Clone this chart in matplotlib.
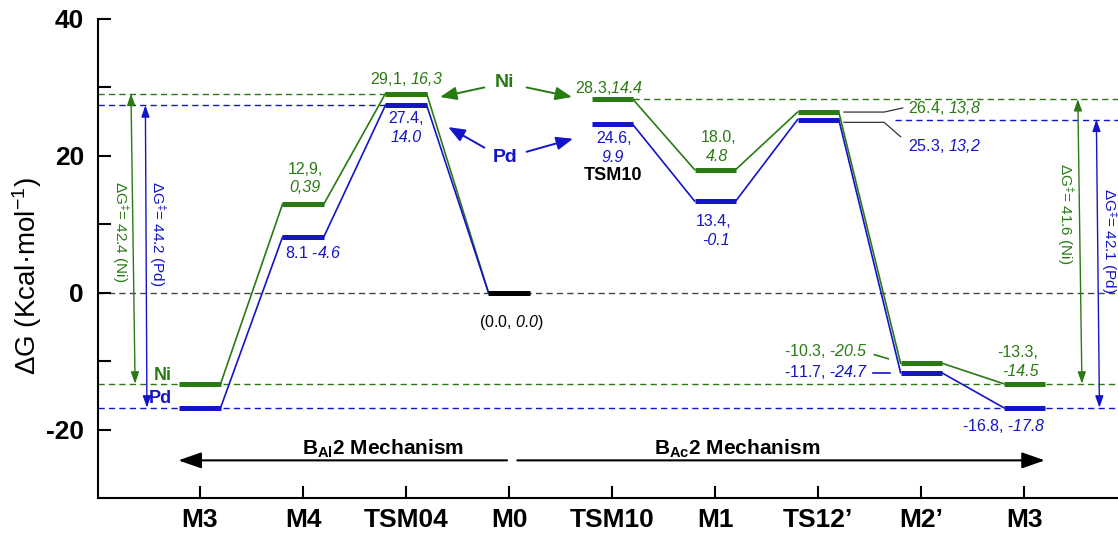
import matplotlib
matplotlib.use('Agg')
import matplotlib.pyplot as plt

plt.rcParams['font.family'] = 'Liberation Sans'
# math mode is only used for italic numbers, sub/superscripts
plt.rcParams['mathtext.fontset'] = 'custom'
plt.rcParams['mathtext.rm'] = 'Liberation Sans:italic'
plt.rcParams['mathtext.it'] = 'Liberation Sans:italic'
plt.rcParams['mathtext.sf'] = 'Liberation Sans'
plt.rcParams['mathtext.bf'] = 'Liberation Sans:bold'

# free energy profile, Ni and Pd
states = ['M3', 'M4', 'TSM04', 'M0', 'TSM10', 'M1', 'TS12\u2019', 'M2\u2019', 'M3']
ni_dG = [-13.3, 12.9, 29.1, 0.0, 28.3, 18.0, 26.4, -10.3, -13.3]
pd_dG = [-16.8, 8.1, 27.4, 0.0, 24.6, 13.4, 25.3, -11.7, -16.8]
# printed values (first number as written, second in italics)
ni_first = ['-13.3', '12,9', '29,1', '0.0', '28.3', '18.0', '26.4', '-10.3', '-13.3']
ni_second = ['-14.5', '0,39', '16,3', '0.0', '14.4', '4.8', '13,8', '-20.5', '-14.5']
pd_first = ['-16.8', '8.1', '27.4', '0.0', '24.6', '13.4', '25.3', '-11.7', '-16.8']
pd_second = ['-17.8', '-4.6', '14.0', '0.0', '9.9', '-0.1', '13,2', '-24.7', '-17.8']
# activation barriers: B_Al2 (left) and B_Ac2 (right)
ni_barrier = [42.4, 41.6]
pd_barrier = [44.2, 42.1]

GREEN = '#2a7a14'
BLUE = '#1414c8'
hw = 0.2  # half width of a level bar
FS = 11.5  # value labels

fig = plt.figure(figsize=(11.18, 5.36), dpi=100)
ax = fig.add_axes([98 / 1118, 38 / 536, 1020 / 1118, 479 / 536])
ax.set_xlim(-0.99, 8.91)
ax.set_ylim(-30, 40)


def it(s):
    # italic number, keeping the leading hyphen upright
    sign = '-' if s.startswith('-') else ''
    return sign + r'$\mathrm{' + s.lstrip('-').replace(',', '{,}') + '}$'


def dashed(x0, x1, y, color):
    ax.plot([x0, x1], [y, y], color=color, lw=1, dashes=(4.5, 3), zorder=1)


def profile(values, color):
    for i, v in enumerate(values):
        if i == 3:
            continue
        ax.plot([i - hw, i + hw], [v, v], color=color, lw=3.6,
                solid_capstyle='butt', zorder=4)
        if i < len(values) - 1:
            ax.plot([i + hw, i + 1 - hw], [v, values[i + 1]], color=color,
                    lw=1.2, zorder=3)


x0, x1 = ax.get_xlim()
dashed(x0, x1, 0, '#444444')
dashed(x0, x1, ni_dG[0], GREEN)
dashed(x0, x1, pd_dG[0], BLUE)
dashed(x0, 2 - hw, ni_dG[2], GREEN)
dashed(x0, 2 - hw, pd_dG[2], BLUE)
dashed(4 + hw, x1, ni_dG[4], GREEN)
dashed(6.75, x1, pd_dG[6], BLUE)

profile(ni_dG, GREEN)
profile(pd_dG, BLUE)
ax.plot([3 - hw, 3 + hw], [0, 0], color='black', lw=3.6,
        solid_capstyle='butt', zorder=5)


def label(i, v, text, color, dx, dy, ha='center', **kw):
    ax.annotate(text, (i, v), xytext=(dx, dy), textcoords='offset pixels',
                ha=ha, va='center', color=color, fontsize=FS, **kw)


# M4
label(1, ni_dG[1], ni_first[1] + ',', GREEN, 2, 35)
label(1, ni_dG[1], ni_second[1], GREEN, 2, 17, style='italic')
label(1, pd_dG[1], pd_first[1] + ' ' + it(pd_second[1]), BLUE, 10, -16)
# TSM04
label(2, ni_dG[2], ni_first[2] + ', ' + it(ni_second[2]), GREEN, 0, 15)
label(2, pd_dG[2], pd_first[2] + ',', BLUE, 0, -13)
label(2, pd_dG[2], pd_second[2], BLUE, 0, -32, style='italic')
# M0
label(3, 0, '(' + ni_first[3] + ', ' + it(ni_second[3]) + ')', 'black', 2, -30)
# TSM10
label(4, ni_dG[4], ni_first[4] + ',' + it(ni_second[4]), GREEN, -3, 11)
label(4, pd_dG[4], pd_first[4] + ',', BLUE, 2, -14)
label(4, pd_dG[4], pd_second[4], BLUE, 0, -33, style='italic')
ax.annotate('TSM10', (4, pd_dG[4]), xytext=(1, -51), textcoords='offset pixels',
            ha='center', va='center', fontsize=13, fontweight='bold')
# M1
label(5, ni_dG[5], ni_first[5] + ',', GREEN, 3, 32)
label(5, ni_dG[5], ni_second[5], GREEN, 2, 13, style='italic')
label(5, pd_dG[5], pd_first[5] + ',', BLUE, -2, -20)
label(5, pd_dG[5], pd_second[5], BLUE, 1, -39, style='italic')
# TS12'
ax.plot([6.25, 6.64, 6.82], [ni_dG[6], ni_dG[6], ni_dG[6] + 0.6],
        color='#333333', lw=0.9)
ax.plot([6.25, 6.64, 6.80], [pd_dG[6] - 0.4, pd_dG[6] - 0.4, pd_dG[6] - 2.5],
        color='#333333', lw=0.9)
label(6, ni_dG[6], ni_first[6] + ', ' + it(ni_second[6]), GREEN, 90, 4, ha='left')
label(6, pd_dG[6], pd_first[6] + ', ' + it(pd_second[6]), BLUE, 90, -26, ha='left')
# M2'
ax.plot([6.545, 6.68], [ni_dG[7] + 1.25, ni_dG[7] + 0.65], color=GREEN, lw=1.2)
ax.plot([6.53, 6.70], [pd_dG[7], pd_dG[7]], color=BLUE, lw=1.2)
label(7, ni_dG[7], ni_first[7] + ', ' + it(ni_second[7]), GREEN, -53, 12, ha='right')
label(7, pd_dG[7], pd_first[7] + ', ' + it(pd_second[7]), BLUE, -53, 1, ha='right')
# M3 (end)
label(8, ni_dG[8], ni_first[8] + ',', GREEN, -7, 31)
label(8, ni_dG[8], ni_second[8], GREEN, -4, 12, style='italic')
label(8, pd_dG[8], pd_first[8] + ', ' + it(pd_second[8]), BLUE, 21, -18, ha='right')

# metal tags at the starting M3
ax.annotate('Ni', (-hw, ni_dG[0]), xytext=(-8, 8), textcoords='offset pixels',
            ha='right', va='center', color=GREEN, fontsize=13, fontweight='bold')
ax.annotate('Pd', (-hw, pd_dG[0]), xytext=(-8, 9), textcoords='offset pixels',
            ha='right', va='center', color=BLUE, fontsize=13, fontweight='bold')

# Ni / Pd pointers between the two transition states
ax.text(2.96, 30.7, 'Ni', color=GREEN, fontsize=14, fontweight='bold',
        ha='center', va='center')
ax.text(2.96, 19.7, 'Pd', color=BLUE, fontsize=14, fontweight='bold',
        ha='center', va='center')
ptr = dict(arrowstyle='-|>,head_length=1.0,head_width=0.4', mutation_scale=10,
           lw=1.4, shrinkA=0, shrinkB=0)
for (xa, ya), (xb, yb), c in [((2.76, 30.0), (2.33, 28.6), GREEN),
                              ((3.17, 30.0), (3.61, 28.6), GREEN),
                              ((2.76, 21.2), (2.41, 24.2), BLUE),
                              ((3.17, 20.6), (3.62, 22.5), BLUE)]:
    ax.annotate('', (xb, yb), xytext=(xa, ya), arrowprops=dict(ptr, color=c))

# barrier arrows
dbl = dict(arrowstyle='<|-|>,head_length=1.0,head_width=0.35', mutation_scale=7,
           lw=1.0, shrinkA=0, shrinkB=0)
ax.annotate('', (-0.63, ni_dG[0]), xytext=(-0.67, ni_dG[2]),
            arrowprops=dict(dbl, color=GREEN))
ax.annotate('', (-0.515, pd_dG[0]), xytext=(-0.53, pd_dG[2]),
            arrowprops=dict(dbl, color=BLUE))
ax.annotate('', (8.56, ni_dG[8]), xytext=(8.52, ni_dG[4]),
            arrowprops=dict(dbl, color=GREEN))
ax.annotate('', (8.73, pd_dG[8]), xytext=(8.70, pd_dG[6]),
            arrowprops=dict(dbl, color=BLUE))
for x, y, val, m, c in [(-0.77, 8.9, ni_barrier[0], 'Ni', GREEN),
                        (-0.41, 8.6, pd_barrier[0], 'Pd', BLUE),
                        (8.40, 11.5, ni_barrier[1], 'Ni', GREEN),
                        (8.83, 7.6, pd_barrier[1], 'Pd', BLUE)]:
    ax.text(x, y, r'ΔG$^{\mathsf{\ddagger}}$= ' + f'{val:.1f} ({m})', color=c,
            fontsize=11, rotation=-90, ha='center', va='center')

# mechanism arrows
mech = dict(arrowstyle='-|>,head_length=1.0,head_width=0.35', mutation_scale=14,
            lw=1.5, color='black', shrinkA=0, shrinkB=0)
ax.annotate('', (-0.21, -24.5), xytext=(2.98, -24.5), arrowprops=mech)
ax.annotate('', (8.2, -24.5), xytext=(3.08, -24.5), arrowprops=mech)
ax.text(1.78, -23.6, r'B$_{\mathbf{Al}}$2 Mechanism', fontsize=15,
        fontweight='bold', ha='center', va='baseline')
ax.text(5.21, -23.6, r'B$_{\mathbf{Ac}}$2 Mechanism', fontsize=15,
        fontweight='bold', ha='center', va='baseline')

# axes
for s in ['top', 'right']:
    ax.spines[s].set_visible(False)
for s in ['left', 'bottom']:
    ax.spines[s].set_linewidth(1.5)
ax.set_xticks(range(len(states)))
ax.set_xticklabels(states, fontsize=19, fontweight='bold')
ax.set_yticks([-20, -10, 0, 10, 20, 30, 40])
ax.set_yticklabels(['-20', '', '0', '', '20', '', '40'], fontsize=19,
                   fontweight='bold')
ax.tick_params(axis='x', direction='in', length=9, width=1.5, pad=7)
ax.tick_params(axis='y', direction='in', length=9, width=1.5, pad=10)
fig.text(27 / 1118, 1 - 276 / 536, r'ΔG (Kcal·mol$^{\mathsf{-1}}$)', fontsize=20,
         rotation=90, ha='center', va='center')

fig.savefig('out.png', dpi=100)
